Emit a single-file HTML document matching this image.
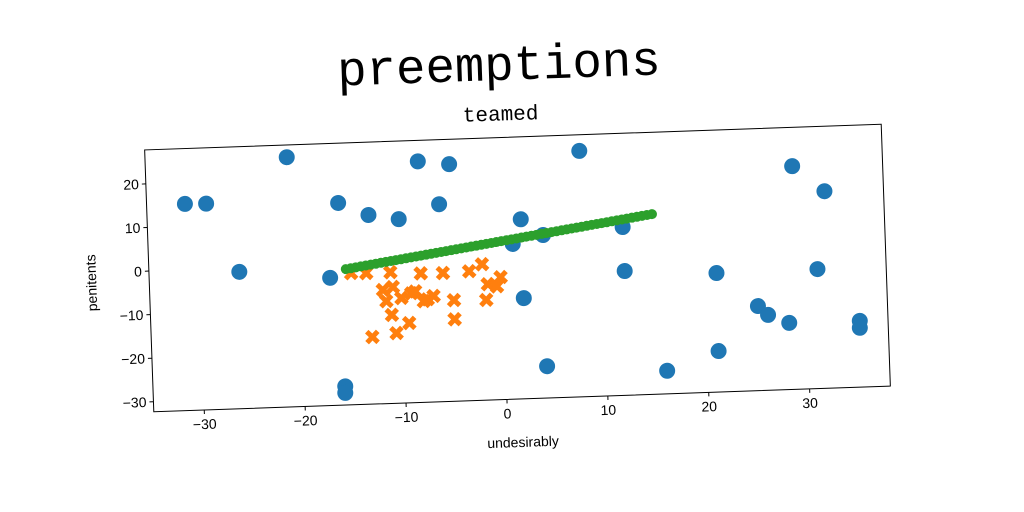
<!DOCTYPE html>
<html><head><meta charset="utf-8"><style>
body{margin:0;background:#fff;width:1024px;height:512px;overflow:hidden}
svg{display:block}
</style></head><body>
<svg id="chart" width="1024" height="512" xmlns="http://www.w3.org/2000/svg" font-family="Liberation Sans, sans-serif">
<text x="499" y="80" text-anchor="middle" font-family="Liberation Mono, monospace" font-size="49" transform="rotate(-2 499 68)">preemptions</text>
<g id="plot" transform="rotate(-2 517.5 268)">
<text x="506" y="120" text-anchor="middle" font-family="Liberation Mono, monospace" font-size="21">teamed</text>
<rect x="149" y="137" width="737" height="262" fill="#fff" stroke="#000" stroke-width="1"/>
<g id="marks"></g>
<g id="axes"></g>
<text x="517" y="447" text-anchor="middle" font-size="14">undesirably</text>
<text x="0" y="0" text-anchor="middle" font-size="14" transform="translate(96 268) rotate(-90)">penitents</text>
</g>
</svg>
<script>
const xTicks=[-30,-20,-10,0,10,20,30];
const yTicks=[-30,-20,-10,0,10,20];
const blueX=[-31.2,-29.1,-26.05,-20.96,-16.03,-17.08,-15.96,-15.98,-13.07,-10.09,-8.0,-4.91,-6.04,1.99,1.11,4.14,2.02,4.09,8.02,12.05,12.1,15.96,21.18,21.12,25.17,26.14,28.21,29.04,31.19,32.15,35.2,35.18];
const blueY=[15.1,15,-0.9,25,14.1,-3,-28,-29.5,11.1,9.9,23,22.1,13,8.9,3.3,5.1,-9.2,-25,24.1,6.3,-3.8,-27,-5,-22.9,-12.9,-15,-17,18.9,-4.9,12.9,-17.1,-18.7];
const orangeX=[-15.0,-13.5,-11.1,-11.9,-10.9,-11.6,-10.1,-9.1,-8.7,-8.1,-5.9,-7.5,-6.9,-7.9,-4.9,-3.3,-2.0,-1.5,-1.7,-4.9,-11.1,-9.4,-10.7,-13.1,-0.2,-0.6];
const orangeY=[-2.1,-2.2,-2.2,-6.2,-5.6,-8.8,-8.2,-7.2,-6.8,-2.7,-2.8,-8.7,-8,-9.1,-9.1,-2.6,-1.1,-5.7,-9.3,-13.5,-12,-14,-16.2,-16.9,-4.2,-6.3];
const greenX=[-15.5,-15,-14.5,-14,-13.5,-13,-12.5,-12,-11.5,-11,-10.5,-10,-9.5,-9,-8.5,-8,-7.5,-7,-6.5,-6,-5.5,-5,-4.5,-4,-3.5,-3,-2.5,-2,-1.5,-1,-0.5,0,0.5,1,1.5,2,2.5,3,3.5,4,4.5,5,5.5,6,6.5,7,7.5,8,8.5,9,9.5,10,10.5,11,11.5,12,12.5,13,13.5,14,14.5,15];
const greenY=[-1.13,-0.97,-0.8,-0.63,-0.46,-0.3,-0.13,0.04,0.2,0.37,0.54,0.7,0.87,1.04,1.2,1.37,1.54,1.7,1.87,2.04,2.2,2.37,2.54,2.7,2.87,3.04,3.2,3.37,3.53,3.7,3.87,4.04,4.2,4.37,4.53,4.7,4.87,5.04,5.2,5.37,5.53,5.7,5.87,6.04,6.2,6.37,6.53,6.7,6.87,7.04,7.2,7.37,7.53,7.7,7.87,8.04,8.2,8.37,8.53,8.7,8.87,9.03];
const NS='http://www.w3.org/2000/svg';
const L=149,T=137,W=737,H=262,X0=-35,X1=38,Y0=-32.3,Y1=27.8;
const sx=v=>L+(v-X0)/(X1-X0)*W;
const sy=v=>T+H-(v-Y0)/(Y1-Y0)*H;
const marks=document.getElementById('marks'),axes=document.getElementById('axes');
function mk(tag,attrs,parent){const e=document.createElementNS(NS,tag);for(const k in attrs)e.setAttribute(k,attrs[k]);parent.appendChild(e);return e;}
blueX.forEach((x,i)=>{const c=mk('circle',{cx:sx(x),cy:sy(blueY[i]),r:8,fill:'#1f77b4'},marks);

});
orangeX.forEach((x,i)=>{const cx=sx(x),cy=sy(orangeY[i]),s=5.5;
const p=mk('path',{d:`M${cx-s},${cy-s}L${cx+s},${cy+s}M${cx-s},${cy+s}L${cx+s},${cy-s}`,stroke:'#ff7f0e','stroke-width':5},marks);

});
greenX.forEach((x,i)=>{const c=mk('circle',{cx:sx(x),cy:sy(greenY[i]),r:5,fill:'#2ca02c'},marks);

});
xTicks.forEach(v=>{const x=sx(v);mk('line',{x1:x,x2:x,y1:T+H,y2:T+H+4,stroke:'#000'},axes);
const t=mk('text',{x:x,y:T+H+19,'text-anchor':'middle','font-size':14},axes);t.textContent=v<0?'\u2212'+(-v):v;

});
yTicks.forEach(v=>{const y=sy(v);mk('line',{x1:L-4,x2:L,y1:y,y2:y,stroke:'#000'},axes);
const t=mk('text',{x:L-7,y:y+5,'text-anchor':'end','font-size':14},axes);t.textContent=v<0?'\u2212'+(-v):v;

});
</script>
</body></html>
